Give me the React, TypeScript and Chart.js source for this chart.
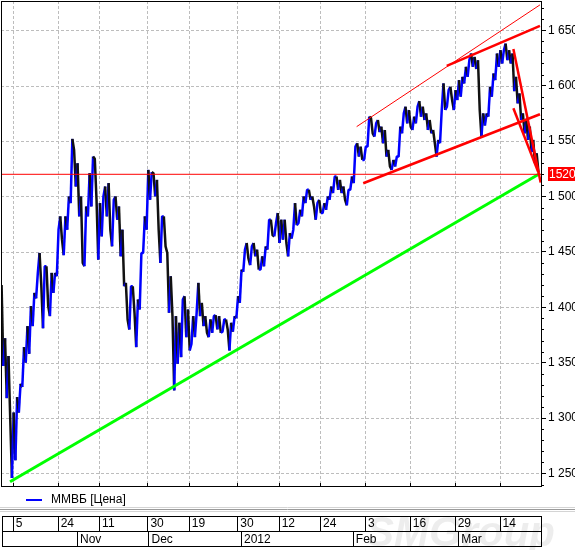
import React, { useEffect, useRef } from 'react';
import { Chart, registerables } from 'chart.js';

Chart.register(...registerables);

// ---------------- data ----------------
// trading-day index of the first bar
const FIRST_DAY = -3;

// daily highs (day -3 .. 152)
const HIGH = [
  1420, 1372, 1356, 1305, 1319, 1331, 1364, 1383, 1401, 1413,
  1431, 1449, 1437, 1437, 1431, 1431, 1470, 1482, 1482, 1500,
  1552, 1542, 1530, 1500, 1491, 1521, 1536, 1534, 1494, 1500,
  1509, 1512, 1497, 1500, 1491, 1470, 1422, 1419, 1419, 1407,
  1449, 1482, 1524, 1522, 1521, 1515, 1482, 1482, 1449, 1428,
  1392, 1386, 1407, 1410, 1398, 1392, 1395, 1422, 1404, 1392,
  1389, 1392, 1393, 1392, 1389, 1389, 1386, 1392, 1410, 1434,
  1452, 1458, 1455, 1458, 1452, 1446, 1455, 1479, 1479, 1476,
  1485, 1479, 1479, 1467, 1470, 1494, 1488, 1500, 1506, 1506,
  1500, 1494, 1497, 1494, 1500, 1509, 1518, 1518, 1515, 1509,
  1506, 1518, 1545, 1548, 1545, 1545, 1572, 1571, 1566, 1569,
  1563, 1560, 1542, 1533, 1536, 1563, 1575, 1581, 1578, 1572,
  1581, 1586, 1581, 1575, 1569, 1560, 1551, 1578, 1602, 1596,
  1599, 1596, 1605, 1608, 1617, 1623, 1629, 1626, 1623, 1575,
  1575, 1599, 1611, 1629, 1632, 1632, 1638, 1632, 1629, 1608,
  1593, 1575, 1569, 1563, 1551, 1539,
];

// daily lows (day -3 .. 152)
const LOW = [
  1347, 1318, 1300, 1246, 1262, 1305, 1328, 1350, 1358, 1383,
  1408, 1420, 1381, 1401, 1392, 1413, 1428, 1461, 1447, 1470,
  1494, 1509, 1482, 1440, 1437, 1482, 1491, 1497, 1443, 1464,
  1482, 1470, 1455, 1479, 1446, 1419, 1389, 1380, 1395, 1364,
  1398, 1449, 1470, 1497, 1500, 1470, 1440, 1455, 1395, 1392,
  1325, 1349, 1355, 1373, 1361, 1367, 1373, 1392, 1383, 1377,
  1373, 1377, 1380, 1377, 1378, 1380, 1361, 1378, 1390, 1404,
  1432, 1444, 1438, 1446, 1434, 1434, 1437, 1452, 1465, 1464,
  1458, 1461, 1458, 1446, 1462, 1474, 1476, 1482, 1494, 1497,
  1491, 1479, 1485, 1485, 1488, 1497, 1503, 1506, 1503, 1497,
  1492, 1506, 1512, 1536, 1533, 1533, 1545, 1557, 1554, 1558,
  1548, 1536, 1527, 1524, 1527, 1536, 1557, 1566, 1563, 1560,
  1566, 1572, 1569, 1560, 1557, 1548, 1536, 1548, 1578, 1581,
  1587, 1578, 1587, 1590, 1602, 1608, 1617, 1615, 1578, 1554,
  1564, 1572, 1590, 1605, 1617, 1620, 1623, 1620, 1595, 1584,
  1569, 1557, 1551, 1540, 1530, 1522,
];

const X_MIN = -3.42;
const X_MAX = 153.0;
const Y_MIN = 1238.7;
const Y_MAX = 1676.4;

const Y_TICKS = [1250, 1300, 1350, 1400, 1450, 1500, 1550, 1600, 1650];
const DAY_TICKS = [0, 13, 25, 39, 51, 65, 77, 89, 102, 115, 128, 141];
const DAY_LABELS = ['5', '24', '11', '30', '19', '30', '12', '24', '3', '16', '29', '14'];
const MONTH_TICKS = [18.6, 39.3, 66.1, 98.5, 129];
const MONTH_LABELS = ['Nov', 'Dec', '2012', 'Feb', 'Mar'];

const LEVEL_VALUE = 1520;
const SUPPORT_LINE = [{ x: -0.8, y: 1242.6 }, { x: 152.7, y: 1520.7 }];
const LEVEL_LINE = [{ x: X_MIN, y: LEVEL_VALUE }, { x: X_MAX, y: LEVEL_VALUE }];
const UPPER_THIN = [{ x: 99.6, y: 1563 }, { x: 152.7, y: 1672.9 }];
const UPPER_CHANNEL = [{ x: 125.7, y: 1617.8 }, { x: 152.7, y: 1653.9 }];
const LOWER_CHANNEL = [{ x: 101.5, y: 1511.9 }, { x: 152.7, y: 1574.2 }];
const FALL_LINE_1 = [{ x: 145, y: 1633 }, { x: 152.9, y: 1512.5 }];
const FALL_LINE_2 = [{ x: 145, y: 1579.6 }, { x: 152.2, y: 1522 }];

const SERIES_NAME = 'ММВБ [Цена]';
const BLUE = '#0000ff';
const BLACK = '#111111';
const RED = '#ff0000';
const GREEN = '#00ff00';
const GRID = '#bdbdbd';
const FONT = "'Liberation Sans', Arial, sans-serif";

function buildPricePoints() {
  const pts: { x: number; y: number }[] = [];
  for (let k = 0; k < HIGH.length; k++) {
    const day = FIRST_DAY + k;
    const mid = (HIGH[k] + LOW[k]) / 2;
    const nextMid = k + 1 < HIGH.length ? (HIGH[k + 1] + LOW[k + 1]) / 2 : -Infinity;
    const up = nextMid > mid;
    pts.push({ x: day - 0.25, y: up ? LOW[k] : HIGH[k] });
    pts.push({ x: day + 0.25, y: up ? HIGH[k] : LOW[k] });
  }
  return pts;
}

function fmtY(v: number) {
  const t = Math.floor(v / 1000);
  const r = String(Math.round(v % 1000)).padStart(3, '0');
  return `${t} ${r}`;
}

const trend = (data: any[], color: string, width: number) => ({
  type: 'line' as const,
  data,
  borderColor: color,
  borderWidth: width,
  pointRadius: 0,
  fill: false,
  tension: 0,
});

const decorPlugin = {
  id: 'decor',
  beforeDraw(chart: any) {
    const { ctx } = chart;
    ctx.save();
    ctx.font = `italic bold 42px ${FONT}`;
    ctx.fillStyle = 'rgba(0,0,0,0.07)';
    ctx.textBaseline = 'alphabetic';
    ctx.fillText('SMGroup', 366, 546);
    ctx.restore();
  },
  beforeDatasetsDraw(chart: any) {
    const { ctx, chartArea: ca, scales } = chart;
    ctx.save();
    ctx.lineWidth = 1;
    ctx.strokeStyle = GRID;
    ctx.setLineDash([3, 2]);
    ctx.beginPath();
    Y_TICKS.forEach((v) => {
      const py = Math.round(scales.y.getPixelForValue(v)) + 0.5;
      ctx.moveTo(ca.left, py);
      ctx.lineTo(ca.right, py);
    });
    DAY_TICKS.forEach((v) => {
      const px = Math.round(scales.x.getPixelForValue(v)) + 0.5;
      ctx.moveTo(px, ca.top);
      ctx.lineTo(px, ca.bottom);
    });
    ctx.stroke();
    ctx.restore();
  },
  afterDraw(chart: any) {
    const { ctx, chartArea: ca, scales } = chart;
    const y = scales.y;
    const x = scales.x;
    const xd = scales.xd;
    const xm = scales.xm;
    ctx.save();
    ctx.lineWidth = 1;
    ctx.strokeStyle = '#000';
    // plot frame
    ctx.strokeRect(ca.left + 0.5, ca.top + 0.5, ca.right - ca.left, ca.bottom - ca.top);
    // minor ticks on the price axis
    ctx.beginPath();
    for (let v = 1240; v <= 1670; v += 10) {
      if (v % 50 === 0) continue;
      const py = Math.round(y.getPixelForValue(v)) + 0.5;
      ctx.moveTo(ca.right, py);
      ctx.lineTo(ca.right + 3, py);
    }
    // inner ticks at the bottom of the plot
    DAY_TICKS.forEach((v) => {
      const px = Math.round(x.getPixelForValue(v)) + 0.5;
      ctx.moveTo(px, ca.bottom - 3);
      ctx.lineTo(px, ca.bottom);
    });
    ctx.stroke();
    // separator between legend and time panel
    const sepY = xd.top - 7;
    ctx.strokeStyle = '#d4d4d4';
    ctx.beginPath(); ctx.moveTo(0, sepY - 1.5); ctx.lineTo(575, sepY - 1.5); ctx.stroke();
    ctx.strokeStyle = '#9a9a9a';
    ctx.beginPath(); ctx.moveTo(0, sepY + 0.5); ctx.lineTo(575, sepY + 0.5); ctx.stroke();
    ctx.strokeStyle = '#d4d4d4';
    ctx.beginPath(); ctx.moveTo(0, sepY + 2.5); ctx.lineTo(575, sepY + 2.5); ctx.stroke();
    // time panel boxes
    ctx.strokeStyle = '#000';
    ctx.strokeRect(xd.left + 1.5, xd.top + 0.5, xd.right - xd.left - 1, xd.bottom - xd.top);
    ctx.strokeRect(xm.left + 1.5, xm.top + 0.5, xm.right - xm.left - 1, xm.bottom - xm.top);
    ctx.beginPath();
    DAY_TICKS.forEach((v) => {
      const px = Math.round(xd.getPixelForValue(v)) + 0.5;
      ctx.moveTo(px, xd.top);
      ctx.lineTo(px, xd.bottom);
    });
    MONTH_TICKS.forEach((v) => {
      const px = Math.round(xm.getPixelForValue(v)) + 0.5;
      ctx.moveTo(px, xm.top);
      ctx.lineTo(px, xm.bottom);
    });
    ctx.stroke();
    // current level label
    const ly = y.getPixelForValue(LEVEL_VALUE);
    ctx.fillStyle = RED;
    ctx.fillRect(ca.right + 7, Math.round(ly) - 7, 40, 14);
    ctx.fillStyle = '#fff';
    ctx.font = `12px ${FONT}`;
    ctx.textBaseline = 'middle';
    ctx.textAlign = 'left';
    ctx.fillText(String(LEVEL_VALUE), ca.right + 8, Math.round(ly) + 0.5);
    ctx.restore();
  },
};

const noPadding = (axis: any) => {
  axis.paddingTop = 0;
  axis.paddingBottom = 0;
  axis.paddingLeft = 0;
  axis.paddingRight = 0;
};

export default function App() {
  const ref = useRef<HTMLCanvasElement>(null);

  useEffect(() => {
    const canvas = ref.current;
    if (!canvas) return;
    Chart.defaults.font.family = FONT;
    Chart.defaults.font.size = 12;
    Chart.defaults.color = '#000';

    const legendIcon = document.createElement('canvas');
    legendIcon.width = 36;
    legendIcon.height = 4;
    const lctx = legendIcon.getContext('2d');
    if (lctx) {
      lctx.fillStyle = BLUE;
      lctx.fillRect(17, 1, 16, 2);
    }

    const dateAxis = (ticks: number[], labels: string[], weight: number, pad: number) => ({
      type: 'linear' as const,
      position: 'bottom' as const,
      min: X_MIN,
      max: X_MAX,
      weight,
      grid: { display: false, drawTicks: false },
      border: { display: false },
      afterBuildTicks: (axis: any) => {
        axis.ticks = ticks.map((v) => ({ value: v }));
      },
      afterFit: (axis: any) => {
        axis.height = 15;
        noPadding(axis);
      },
      ticks: {
        autoSkip: false,
        maxRotation: 0,
        minRotation: 0,
        align: 'start' as const,
        labelOffset: 3,
        padding: pad,
        color: '#000',
        font: { size: 12, family: FONT },
        callback: (_v: any, i: number) => labels[i],
      },
    });

    const chart = new Chart(canvas, {
      type: 'line',
      data: {
        datasets: [
          trend(FALL_LINE_1, RED, 2.5),
          trend(FALL_LINE_2, RED, 2.5),
          trend(UPPER_CHANNEL, RED, 2.5),
          trend(LOWER_CHANNEL, RED, 2.5),
          trend(UPPER_THIN, RED, 1),
          trend(LEVEL_LINE, RED, 1),
          trend(SUPPORT_LINE, GREEN, 3),
          {
            type: 'line',
            label: SERIES_NAME,
            data: buildPricePoints(),
            borderColor: BLUE,
            borderWidth: 2.5,
            pointRadius: 0,
            fill: false,
            tension: 0,
            borderJoinStyle: 'bevel',
            segment: {
              borderColor: (c: any) => (c.p1.parsed.y >= c.p0.parsed.y ? BLUE : BLACK),
            },
          } as any,
        ],
      },
      options: {
        responsive: false,
        animation: false,
        events: [],
        layout: { padding: { left: 1, top: 1, right: 0, bottom: 4 } },
        plugins: {
          tooltip: { enabled: false },
          legend: {
            display: true,
            position: 'bottom',
            align: 'start',
            labels: {
              usePointStyle: true,
              pointStyleWidth: 36,
              boxHeight: 12,
              padding: 8,
              color: '#000',
              font: { size: 12, family: FONT },
              generateLabels: () => [
                {
                  text: SERIES_NAME,
                  pointStyle: legendIcon as any,
                  fillStyle: 'transparent',
                  strokeStyle: 'transparent',
                  lineWidth: 0,
                  hidden: false,
                  datasetIndex: 7,
                  fontColor: '#000',
                } as any,
              ],
            },
          },
        },
        scales: {
          x: {
            type: 'linear',
            position: 'bottom',
            min: X_MIN,
            max: X_MAX,
            weight: 0,
            afterBuildTicks: (axis: any) => {
              axis.ticks = DAY_TICKS.map((v) => ({ value: v }));
            },
            afterFit: (axis: any) => {
              axis.height = 0;
              noPadding(axis);
            },
            ticks: { display: false },
            grid: { display: false, drawTicks: false },
            border: { display: false },
          },
          xd: dateAxis(DAY_TICKS, DAY_LABELS, 2000, 0) as any,
          xm: dateAxis(MONTH_TICKS, MONTH_LABELS, 3000, 1) as any,
          y: {
            type: 'linear',
            position: 'right',
            min: Y_MIN,
            max: Y_MAX,
            afterBuildTicks: (axis: any) => {
              axis.ticks = Y_TICKS.map((v) => ({ value: v }));
            },
            afterFit: (axis: any) => {
              axis.width = 34;
              noPadding(axis);
            },
            ticks: {
              padding: 2,
              color: '#000',
              font: { size: 12, family: FONT },
              callback: (v: any) => fmtY(Number(v)),
            },
            grid: {
              drawOnChartArea: false,
              drawTicks: true,
              tickLength: 5,
              color: '#000',
              tickColor: '#000',
              tickWidth: 1,
            },
            border: { display: false },
          },
        },
      },
      plugins: [decorPlugin],
    });

    return () => {
      chart.destroy();
    };
  }, []);

  return (
    <div style={{ position: 'fixed', left: 0, top: 0, width: 575, height: 550, background: '#fff' }}>
      <canvas ref={ref} width={575} height={550} style={{ display: 'block', width: 575, height: 550 }} />
    </div>
  );
}
